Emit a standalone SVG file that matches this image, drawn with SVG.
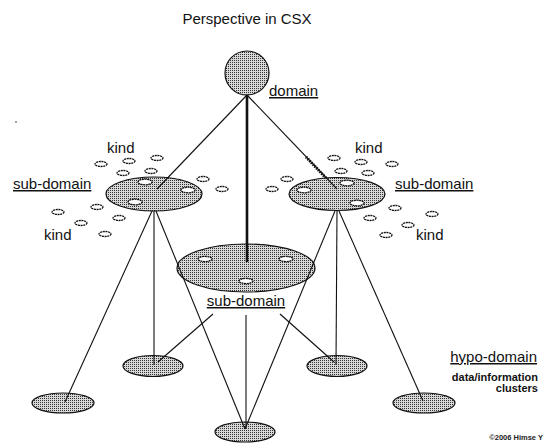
<svg xmlns="http://www.w3.org/2000/svg" width="544" height="443" viewBox="0 0 544 443">
  <defs>
    <!-- stippled grey fill used by every cluster -->
    <pattern id="stipple" width="2" height="2" patternUnits="userSpaceOnUse">
      <rect width="2" height="2" fill="#d8d8d8"/>
      <rect width="1" height="1" fill="#333"/>
    </pattern>
    <style>
      .lbl { font-family: "Liberation Sans", Arial, sans-serif; font-size: 15px; fill: #111; }
      .ul { text-decoration: underline; }
      .note { font-family: "Liberation Sans", Arial, sans-serif; font-size: 11px; font-weight: bold; fill: #111; text-anchor: end; }
      .big { fill: url(#stipple); stroke: #111; stroke-width: 1.2; }
      .kind { fill: #fff; stroke: #111; stroke-width: 1.3; stroke-dasharray: 2 0.6; }
      .edge { stroke: #111; stroke-width: 1.1; fill: none; }
      .thick { stroke: #111; stroke-width: 2.6; fill: none; }
    </style>
  </defs>
  <rect width="544" height="443" fill="#fff"/>

  <text class="lbl" x="247" y="24" text-anchor="middle">Perspective in CSX</text>
  <circle cx="16" cy="122" r="0.8" fill="#333"/>

  <!-- top node -->
  <g id="domain">
    <circle class="big" cx="247" cy="73" r="22"/>
    <text class="lbl ul" x="269" y="96">domain</text>
  </g>

  <!-- left sub-domain with its kinds -->
  <g id="subdomain-left">
    <ellipse class="big" cx="154" cy="194" rx="48" ry="17"/>
    <g>
      <ellipse class="kind" cx="145" cy="182" rx="7" ry="2.8"/>
      <ellipse class="kind" cx="188" cy="190" rx="7" ry="2.8"/>
      <ellipse class="kind" cx="135" cy="202" rx="7" ry="2.8"/>
      <ellipse class="kind" cx="101" cy="164" rx="6" ry="2.5"/>
      <ellipse class="kind" cx="129" cy="161" rx="6" ry="2.5"/>
      <ellipse class="kind" cx="157" cy="158" rx="6" ry="2.5"/>
      <ellipse class="kind" cx="123" cy="173" rx="6" ry="2.5"/>
      <ellipse class="kind" cx="151" cy="171" rx="6" ry="2.5"/>
      <ellipse class="kind" cx="203" cy="179" rx="6" ry="2.5"/>
      <ellipse class="kind" cx="222" cy="189" rx="6" ry="2.5"/>
      <ellipse class="kind" cx="97" cy="207" rx="6" ry="2.5"/>
      <ellipse class="kind" cx="119" cy="218" rx="6" ry="2.5"/>
      <ellipse class="kind" cx="58" cy="212" rx="6" ry="2.5"/>
      <ellipse class="kind" cx="81" cy="223" rx="6" ry="2.5"/>
      <ellipse class="kind" cx="105" cy="234" rx="6" ry="2.5"/>
    </g>
    <text class="lbl ul" x="13" y="189">sub-domain</text>
    <text class="lbl" x="107" y="153">kind</text>
    <text class="lbl" x="44" y="240">kind</text>
  </g>

  <!-- right sub-domain with its kinds -->
  <g id="subdomain-right">
    <ellipse class="big" cx="337" cy="194" rx="48" ry="16.5"/>
    <g>
      <ellipse class="kind" cx="347" cy="183" rx="7" ry="2.8"/>
      <ellipse class="kind" cx="304" cy="190" rx="7" ry="2.8"/>
      <ellipse class="kind" cx="357" cy="203" rx="7" ry="2.8"/>
      <ellipse class="kind" cx="334" cy="158" rx="6" ry="2.5"/>
      <ellipse class="kind" cx="361" cy="162" rx="6" ry="2.5"/>
      <ellipse class="kind" cx="392" cy="164" rx="6" ry="2.5"/>
      <ellipse class="kind" cx="341" cy="171" rx="6" ry="2.5"/>
      <ellipse class="kind" cx="368" cy="173" rx="6" ry="2.5"/>
      <ellipse class="kind" cx="287" cy="179" rx="6" ry="2.5"/>
      <ellipse class="kind" cx="272" cy="189" rx="6" ry="2.5"/>
      <ellipse class="kind" cx="395" cy="208" rx="6" ry="2.5"/>
      <ellipse class="kind" cx="432" cy="214" rx="6" ry="2.5"/>
      <ellipse class="kind" cx="370" cy="218" rx="6" ry="2.5"/>
      <ellipse class="kind" cx="408" cy="225" rx="6" ry="2.5"/>
      <ellipse class="kind" cx="386" cy="235" rx="6" ry="2.5"/>
    </g>
    <text class="lbl ul" x="395" y="189">sub-domain</text>
    <text class="lbl" x="355" y="153">kind</text>
    <text class="lbl" x="416" y="240">kind</text>
  </g>

  <!-- centre sub-domain -->
  <g id="subdomain-center">
    <ellipse class="big" cx="246" cy="268" rx="69" ry="24"/>
    <ellipse class="kind" cx="205" cy="259" rx="7" ry="2.6"/>
    <ellipse class="kind" cx="286" cy="259" rx="7" ry="2.6"/>
    <ellipse class="kind" cx="246" cy="281" rx="7" ry="2.6"/>
    <text class="lbl ul" x="246" y="306" text-anchor="middle">sub-domain</text>
  </g>

  <!-- hypo-domain clusters -->
  <g id="hypo-1"><ellipse class="big" cx="63" cy="403" rx="31" ry="10"/></g>
  <g id="hypo-2"><ellipse class="big" cx="153" cy="366" rx="30" ry="10.5"/></g>
  <g id="hypo-3"><ellipse class="big" cx="245" cy="432" rx="30" ry="10"/></g>
  <g id="hypo-4"><ellipse class="big" cx="337" cy="366" rx="30" ry="10.5"/></g>
  <g id="hypo-5"><ellipse class="big" cx="424" cy="403" rx="31" ry="10"/></g>

  <g id="legend">
    <text class="lbl ul" x="537" y="362" text-anchor="end">hypo-domain</text>
    <text class="note" x="538" y="381">data/information</text>
    <text class="note" x="538" y="392">clusters</text>
    <text x="543" y="440" text-anchor="end" font-family="Liberation Sans, Arial, sans-serif" font-size="7.5" font-weight="bold" fill="#222">©2006 Himse Y</text>
  </g>

  <!-- connectors -->
  <g id="connectors">
    <line class="edge" x1="247" y1="95" x2="157" y2="189"/>
    <line class="thick" x1="247" y1="95" x2="247" y2="262"/>
    <line class="edge" x1="247" y1="95" x2="337" y2="189"/>
    <line x1="306" y1="157" x2="326" y2="178" stroke="#111" stroke-width="3" stroke-dasharray="1.5 1"/>

    <line class="edge" x1="152" y1="211" x2="65" y2="402"/>
    <line class="edge" x1="154" y1="211" x2="154" y2="365"/>
    <line class="edge" x1="156" y1="211" x2="245" y2="429"/>

    <line class="edge" x1="335" y1="211" x2="245" y2="429"/>
    <line class="edge" x1="337" y1="211" x2="336" y2="365"/>
    <line class="edge" x1="339" y1="211" x2="423" y2="401"/>

    <line class="edge" x1="213" y1="314" x2="158" y2="362"/>
    <line class="edge" x1="246" y1="315" x2="246" y2="428" stroke-width="1.5"/>
    <line class="edge" x1="280" y1="314" x2="334" y2="362"/>
  </g>
</svg>
